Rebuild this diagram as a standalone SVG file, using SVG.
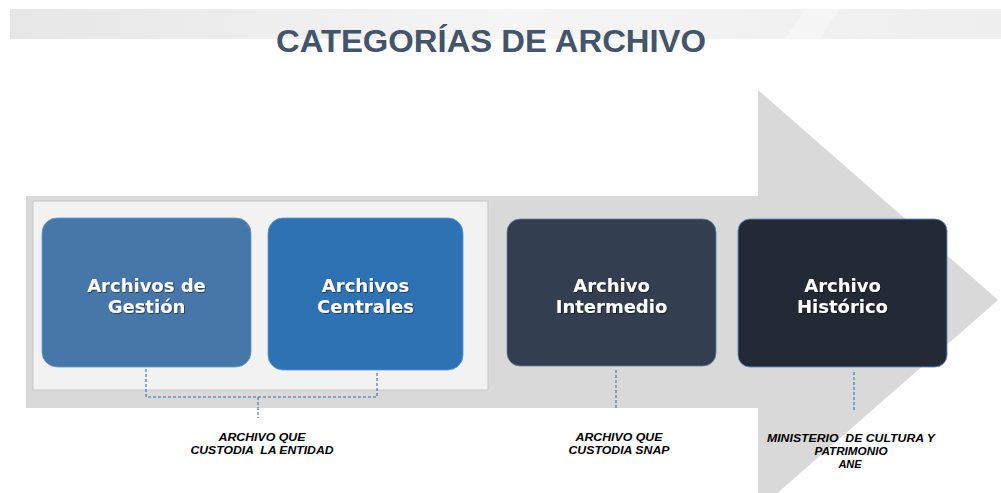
<svg xmlns="http://www.w3.org/2000/svg" width="1001" height="493" viewBox="0 0 1001 493">
<style>
.node text{font-family:"DejaVu Sans",Verdana,sans-serif;font-weight:bold;font-size:18px;fill:#ffffff;text-anchor:middle}
.lbl{font-family:"Liberation Sans",Arial,sans-serif;font-weight:bold;font-style:italic;font-size:11px;fill:#000000;text-anchor:middle}
.dash{fill:none;stroke:#2e75b6;stroke-width:1.1;stroke-dasharray:3 2}
</style>
<defs>
<linearGradient id="band" x1="0" y1="0" x2="1" y2="0">
<stop offset="0" stop-color="#e6e6e6"/>
<stop offset="0.5" stop-color="#f5f5f5"/>
<stop offset="1" stop-color="#eeeeee"/>
</linearGradient>
<filter id="sh" x="-10%" y="-10%" width="120%" height="130%">
<feDropShadow dx="0.8" dy="0.8" stdDeviation="0.6" flood-color="#000000" flood-opacity="0.6"/>
</filter>
</defs>
<rect x="0" y="0" width="1001" height="493" fill="#ffffff"/>
<rect x="10" y="9" width="991" height="30" fill="url(#band)"/>
<polygon points="805,9 840,9 820,39 785,39" fill="#f9f9f9" opacity="0.6"/>
<text x="491" y="52" font-family="'Liberation Sans',Arial,sans-serif" font-weight="bold" font-size="31" fill="#44546a" text-anchor="middle" textLength="430" lengthAdjust="spacingAndGlyphs">CATEGORÍAS DE ARCHIVO</text>

<polygon id="arrow" points="26,196 758,196 758,90 998,300 758,510 758,408 26,408" fill="#d9d9d9"/>
<rect id="group-entidad" x="33" y="201" width="455" height="189" fill="#f2f2f2" stroke="#c6c6c6" stroke-width="1"/>

<g id="connectors">
<polyline class="dash" points="146,369 146,397 377,397 377,371"/>
<line class="dash" x1="258" y1="397" x2="258" y2="418"/>
<line class="dash" x1="616" y1="370" x2="616" y2="410"/>
<line class="dash" x1="854" y1="372" x2="854" y2="412"/>
</g>

<g id="node-gestion" class="node">
<rect x="42" y="218" width="209" height="149" rx="15" fill="#4677a8" stroke="#6a98c8" stroke-width="0.8"/>
<text x="146.5" y="292" filter="url(#sh)">Archivos de</text>
<text x="146.5" y="313" filter="url(#sh)">Gestión</text>
</g>
<g id="node-centrales" class="node">
<rect x="268" y="218" width="195" height="152" rx="15" fill="#2e72b4" stroke="#5a94d0" stroke-width="0.8"/>
<text x="365.5" y="292" filter="url(#sh)">Archivos</text>
<text x="365.5" y="313" filter="url(#sh)">Centrales</text>
</g>
<g id="node-intermedio" class="node">
<rect x="507" y="219" width="209" height="147" rx="13" fill="#333f50" stroke="#5d7fa6" stroke-width="0.8"/>
<text x="611.5" y="292" filter="url(#sh)">Archivo</text>
<text x="611.5" y="313" filter="url(#sh)">Intermedio</text>
</g>
<g id="node-historico" class="node">
<rect x="738" y="219" width="209" height="148" rx="12" fill="#232a35" stroke="#5b8fc9" stroke-width="0.9"/>
<text x="842.5" y="292" filter="url(#sh)">Archivo</text>
<text x="842.5" y="313" filter="url(#sh)">Histórico</text>
</g>

<g id="label-entidad">
<text class="lbl" x="262" y="441" textLength="87" lengthAdjust="spacingAndGlyphs">ARCHIVO QUE</text>
<text class="lbl" x="262" y="454" xml:space="preserve" textLength="143" lengthAdjust="spacingAndGlyphs">CUSTODIA  LA ENTIDAD</text>
</g>
<g id="label-snap">
<text class="lbl" x="619" y="441" textLength="87" lengthAdjust="spacingAndGlyphs">ARCHIVO QUE</text>
<text class="lbl" x="619" y="454" textLength="101" lengthAdjust="spacingAndGlyphs">CUSTODIA SNAP</text>
</g>
<g id="label-ane">
<text class="lbl" x="851" y="442" xml:space="preserve" textLength="168" lengthAdjust="spacingAndGlyphs">MINISTERIO  DE CULTURA Y</text>
<text class="lbl" x="851" y="455" textLength="73" lengthAdjust="spacingAndGlyphs">PATRIMONIO</text>
<text class="lbl" x="850" y="468">ANE</text>
</g>
</svg>
